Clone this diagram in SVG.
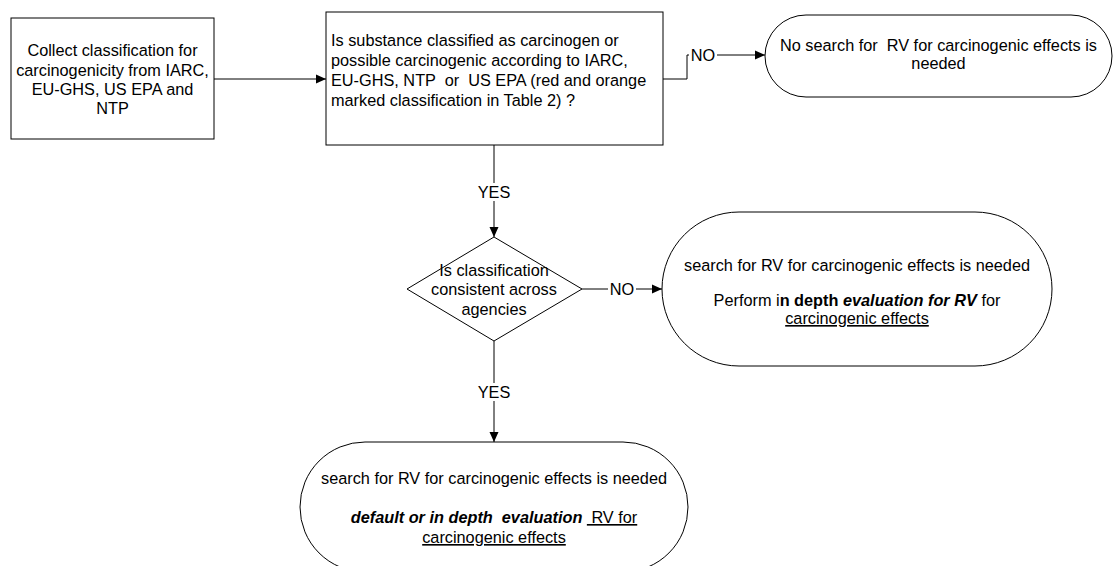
<svg xmlns="http://www.w3.org/2000/svg" width="1117" height="566" viewBox="0 0 1117 566">
<defs>
<marker id="arr" viewBox="0 0 10 10" refX="10" refY="5" markerWidth="10" markerHeight="10" markerUnits="userSpaceOnUse" orient="auto">
<path d="M0,0.5 L10,5 L0,9.5 z" fill="#000"/>
</marker>
<style>
.shape{fill:#fff;stroke:#000;stroke-width:1}
.conn{fill:none;stroke:#000;stroke-width:1}
text{font-family:"Liberation Sans",Arial,sans-serif;font-size:16.3px;fill:#000}
.c{text-anchor:middle}
.lbl{fill:#fff;stroke:none}
.b{font-weight:bold}
.i{font-style:italic}
.u{text-decoration:underline}
</style>
</defs>
<rect width="1117" height="566" fill="#fff"/>
<g id="connectors">
<path class="conn" d="M214,79 H326" marker-end="url(#arr)"/>
<path class="conn" d="M663,79 H687 V55 H765" marker-end="url(#arr)"/>
<rect class="lbl" x="689" y="46" width="28" height="18"/>
<text x="703" y="61" class="c">NO</text>
<path class="conn" d="M494,145 V237" marker-end="url(#arr)"/>
<rect class="lbl" x="478" y="183" width="32" height="18"/>
<text x="494" y="198" class="c">YES</text>
<path class="conn" d="M582,289 H662" marker-end="url(#arr)"/>
<rect class="lbl" x="608" y="280" width="28" height="18"/>
<text x="622" y="295" class="c">NO</text>
<path class="conn" d="M494,341 V442" marker-end="url(#arr)"/>
<rect class="lbl" x="478" y="383" width="32" height="18"/>
<text x="494" y="398" class="c">YES</text>
</g>
<g id="collect">
<rect class="shape" x="11" y="18" width="203" height="121"/>
<text class="c" x="112.5" y="56">Collect classification for</text>
<text class="c" x="112.5" y="76">carcinogenicity from IARC,</text>
<text class="c" x="112.5" y="95">EU-GHS, US EPA and</text>
<text class="c" x="112.5" y="114">NTP</text>
</g>
<g id="classified">
<rect class="shape" x="326" y="12" width="337" height="133"/>
<text x="331" y="46" xml:space="preserve">Is substance classified as carcinogen or</text>
<text x="331" y="66" xml:space="preserve">possible carcinogenic according to IARC,</text>
<text x="331" y="86" xml:space="preserve">EU-GHS, NTP  or  US EPA (red and orange</text>
<text x="331" y="106" xml:space="preserve">marked classification in Table 2) ?</text>
</g>
<g id="no-search">
<rect class="shape" x="765" y="15" width="347" height="82" rx="41" ry="41"/>
<text class="c" x="938.5" y="51" xml:space="preserve">No search for  RV for carcinogenic effects is</text>
<text class="c" x="938.5" y="69">needed</text>
</g>
<g id="consistent">
<path class="shape" d="M494,237 L582,289 L494,341 L407,289 Z"/>
<text class="c" x="494" y="276">Is classification</text>
<text class="c" x="494" y="295">consistent across</text>
<text class="c" x="494" y="315">agencies</text>
</g>
<g id="in-depth">
<rect class="shape" x="662" y="212" width="390" height="154" rx="77" ry="77"/>
<text class="c" x="857" y="271">search for RV for carcinogenic effects is needed</text>
<text class="c" x="857" y="306" xml:space="preserve">Perform i<tspan class="b">n depth </tspan><tspan class="b i">evaluation for RV</tspan> for</text>
<text class="c u" x="857" y="324">carcinogenic effects</text>
</g>
<g id="default">
<rect class="shape" x="300" y="442" width="388" height="130" rx="65" ry="65"/>
<text class="c" x="494" y="484">search for RV for carcinogenic effects is needed</text>
<text class="c" x="494" y="523" xml:space="preserve"><tspan class="b i">default or in depth  evaluation </tspan><tspan class="u"> RV for</tspan></text>
<text class="c u" x="494" y="543">carcinogenic effects</text>
</g>
</svg>
